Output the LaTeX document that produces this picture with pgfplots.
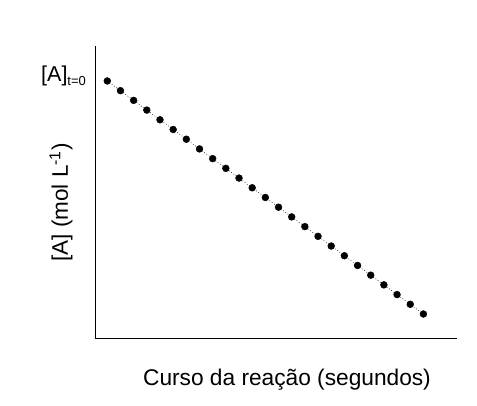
\documentclass[border=0pt]{standalone}
\usepackage{pgfplots}
\pgfplotsset{compat=1.18}
\usepackage{fontspec}
\setmainfont{Liberation Sans}
\begin{document}
\begin{tikzpicture}
\useasboundingbox (0,0) rectangle (477pt,406pt);
\begin{axis}[
  at={(95pt,68pt)}, anchor=south west,
  scale only axis, width=362pt, height=292pt,
  axis lines=left, axis line style={-, line width=0.8pt, black},
  xmin=-0.934, xmax=26.55, ymin=-2.47, ymax=27.6,
  xtick=\empty, ytick=\empty,
  clip=false,
]
\addplot[black, line width=0.5pt, dash pattern=on 0.8pt off 2pt,
  mark=*, mark size=3.4pt, mark options={solid, fill=black}]
  coordinates {
  (0,24) (1,23) (2,22) (3,21) (4,20) (5,19) (6,18) (7,17) (8,16) (9,15)
  (10,14) (11,13) (12,12) (13,11) (14,10) (15,9) (16,8) (17,7) (18,6)
  (19,5) (20,4) (21,3) (22,2) (23,1) (24,0)
  };
\end{axis}
\node[inner sep=0pt, anchor=base] at (287pt,20pt)
  {\fontsize{22.7}{26}\selectfont Curso da reação (segundos)};
\node[inner sep=0pt, anchor=center, rotate=90] at (61pt,203.5pt)
  {\fontsize{22.5}{26}\selectfont [A] (mol L\textsuperscript{-1})};
\node[inner sep=0pt, anchor=base west] at (41pt,324pt)
  {\fontsize{21.5}{24}\selectfont [A]\raisebox{-4pt}{\fontsize{13}{15}\selectfont t=0}};
\end{tikzpicture}
\end{document}
